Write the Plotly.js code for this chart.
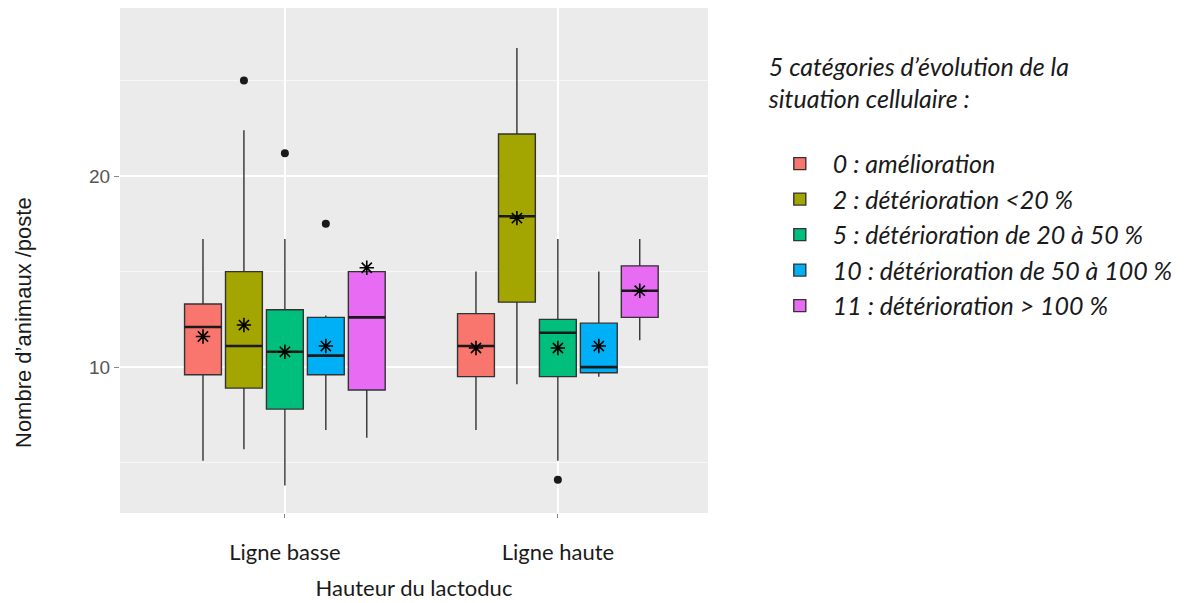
<!DOCTYPE html>
<html>
<head>
<meta charset="utf-8">
<script src="https://cdn.plot.ly/plotly-3.0.1.min.js"></script>
<style>html,body{margin:0;padding:0;background:#fff;}#chart{width:1187px;height:603px;}</style>
</head>
<body>
<div id="chart"></div>
<script>
// Categories (x axis) and series (legend)
const categories = ["Ligne basse", "Ligne haute"];
const seriesNames = [
  "0 : amélioration",
  "2 : détérioration <20 %",
  "5 : détérioration de 20 à 50 %",
  "10 : détérioration de 50 à 100 %",
  "11 : détérioration > 100 %"
];
const seriesColors = ["#F8766D", "#A3A500", "#00BF7D", "#00B0F6", "#E76BF3"];

// Box statistics per series: [Ligne basse, Ligne haute]
const lowerWhisker = [[5.1, 6.7], [5.7, 9.1], [3.8, 5.1], [6.7, 9.5], [6.3, 11.4]];
const q1Values     = [[9.6, 9.5], [8.9, 13.4], [7.8, 9.5], [9.6, 9.7], [8.8, 12.6]];
const medianValues = [[12.1, 11.1], [11.1, 17.9], [10.8, 11.8], [10.6, 10.0], [12.6, 14.0]];
const q3Values     = [[13.3, 12.8], [15.0, 22.2], [13.0, 12.5], [12.6, 12.3], [15.0, 15.3]];
const upperWhisker = [[16.7, 15.0], [22.4, 26.7], [16.7, 16.7], [12.7, 15.0], [15.0, 16.7]];
const meanValues   = [[11.6, 11.0], [12.2, 17.8], [10.8, 11.0], [11.1, 11.1], [15.2, 14.0]];
// Outliers: [series index, category index, value]
const outlierSeries = [1, 2, 3, 2];
const outlierCats   = [0, 0, 0, 1];
const outlierValues = [25.0, 21.2, 17.5, 4.1];

const yTickVals = [10, 20];

// dodge layout (ggplot-like: 0.75 of category width shared by 5 boxes)
const dodge = 0.75, nS = seriesNames.length, slot = dodge / nS, boxW = slot * 0.9;
const pos = (ci, si) => (ci + 1) + (si - (nS - 1) / 2) * slot;

const traces = [];
seriesNames.forEach((name, si) => {
  traces.push({
    type: "box",
    name: name,
    legendgroup: "g" + si,
    x: categories.map((c, ci) => pos(ci, si)),
    q1: q1Values[si], median: medianValues[si], q3: q3Values[si],
    lowerfence: lowerWhisker[si], upperfence: upperWhisker[si],
    width: boxW,
    whiskerwidth: 0,
    fillcolor: seriesColors[si],
    line: {color: "#333333", width: 1.4},
    boxpoints: false,
    hoverinfo: "skip"
  });
});
// thicker median lines (ggplot style)
const medX = [], medY = [];
seriesNames.forEach((name, si) => {
  categories.forEach((c, ci) => {
    medX.push(pos(ci, si) - boxW / 2, pos(ci, si) + boxW / 2, null);
    medY.push(medianValues[si][ci], medianValues[si][ci], null);
  });
});
traces.push({
  type: "scatter", mode: "lines", showlegend: false,
  x: medX, y: medY, line: {color: "#1a1a1a", width: 2.6}, hoverinfo: "skip"
});
// means (asterisks)
seriesNames.forEach((name, si) => {
  traces.push({
    type: "scatter", mode: "markers", showlegend: false, legendgroup: "g" + si,
    x: categories.map((c, ci) => pos(ci, si)),
    y: meanValues[si],
    marker: {symbol: "asterisk-open", size: 12, color: "#000", line: {color: "#000", width: 1.6}},
    hoverinfo: "skip"
  });
});
// outliers
traces.push({
  type: "scatter", mode: "markers", showlegend: false,
  x: outlierValues.map((v, i) => pos(outlierCats[i], outlierSeries[i])),
  y: outlierValues,
  marker: {symbol: "circle", size: 8, color: "#1a1a1a"},
  hoverinfo: "skip"
});

const txtFont = "Lato, 'Open Sans', sans-serif";
const layout = {
  width: 1187, height: 603,
  margin: {l: 120, r: 479, t: 8, b: 90},
  paper_bgcolor: "#ffffff",
  plot_bgcolor: "#EBEBEB",
  showlegend: true,
  xaxis: {
    range: [0.396, 2.55],
    tickvals: [1, 2], ticktext: categories,
    showgrid: true, gridcolor: "#ffffff", gridwidth: 1.5,
    zeroline: false, showline: false,
    ticks: "outside", ticklen: 4, tickcolor: "#888",
    ticklabelstandoff: 16,
    tickfont: {family: txtFont, size: 22, color: "#1a1a1a"},
    title: {text: "Hauteur du lactoduc", standoff: 16,
            font: {family: txtFont, size: 22, color: "#1a1a1a"}}
  },
  yaxis: {
    range: [2.36, 28.8],
    tickvals: yTickVals,
    showgrid: true, gridcolor: "#ffffff", gridwidth: 1.5,
    minor: {dtick: 10, tick0: 5, showgrid: true, gridcolor: "#F7F7F7", gridwidth: 1},
    zeroline: false, showline: false,
    ticks: "outside", ticklen: 5, tickcolor: "#888",
    tickfont: {family: "Liberation Sans, Arial, sans-serif", size: 19, color: "#555"}
  },
  legend: {
    x: 1.1, xanchor: "left", y: 0.93, yanchor: "top",
    bgcolor: "rgba(0,0,0,0)",
    traceorder: "grouped", tracegroupgap: 0,
    font: {family: txtFont, size: 25, color: "#1a1a1a", style: "italic"},
    title: {text: "5 catégories d’évolution de la<br>situation cellulaire :<br> ",
            font: {family: txtFont, size: 25, color: "#1a1a1a", style: "italic"}},
    itemwidth: 56
  },
  annotations: [{
    text: "Nombre d’animaux /poste", textangle: -90,
    xref: "paper", yref: "paper", x: (23 - 120) / 588, y: (513 - 323) / 505,
    xanchor: "center", yanchor: "middle", showarrow: false,
    font: {family: "Liberation Sans, Arial, sans-serif", size: 22, color: "#1a1a1a"}
  }]
};

Plotly.newPlot("chart", traces, layout, {displayModeBar: false, staticPlot: true});
</script>
</body>
</html>
